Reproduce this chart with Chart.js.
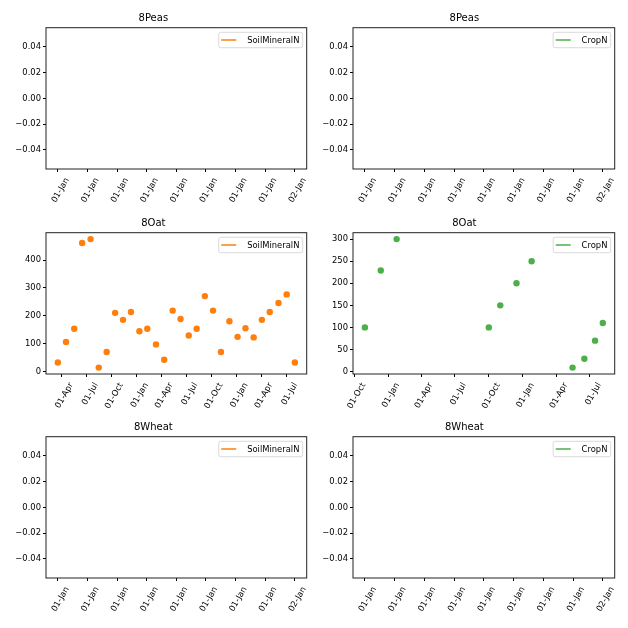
<!DOCTYPE html>
<html>
<head>
<meta charset="utf-8">
<script src="https://cdn.jsdelivr.net/npm/chart.js@4.4.1/dist/chart.umd.min.js"></script>
<style>
  body { margin: 0; background: #fff; }
  canvas { position: absolute; }
</style>
</head>
<body>
<canvas id="peasSoil" style="left:0px;top:0px" width="314" height="209"></canvas>
<canvas id="peasCrop" style="left:314px;top:0px" width="314" height="209"></canvas>
<canvas id="oatSoil" style="left:0px;top:205px" width="314" height="209"></canvas>
<canvas id="oatCrop" style="left:314px;top:205px" width="314" height="209"></canvas>
<canvas id="wheatSoil" style="left:0px;top:409px" width="314" height="209"></canvas>
<canvas id="wheatCrop" style="left:314px;top:409px" width="314" height="209"></canvas>
<script>
// empty panels (8Peas, 8Wheat)
var emptyXTicks = [0, 0.125, 0.25, 0.375, 0.5, 0.625, 0.75, 0.875, 1];
var emptyXLabels = ["01-Jan", "01-Jan", "01-Jan", "01-Jan", "01-Jan", "01-Jan", "01-Jan", "01-Jan", "02-Jan"];
var emptyYTicks = [-0.04, -0.02, 0, 0.02, 0.04];
var emptyYLabels = ["\u22120.04", "\u22120.02", "0.00", "0.02", "0.04"];

// 8Oat SoilMineralN
var oatSoilDates = ["2014-03-17", "2014-04-16", "2014-05-16", "2014-06-14", "2014-07-15", "2014-08-14",
  "2014-09-12", "2014-10-13", "2014-11-11", "2014-12-10", "2015-01-10", "2015-02-08", "2015-03-12",
  "2015-04-11", "2015-05-12", "2015-06-10", "2015-07-10", "2015-08-08", "2015-09-07", "2015-10-07",
  "2015-11-05", "2015-12-06", "2016-01-05", "2016-02-03", "2016-03-04", "2016-04-03", "2016-05-02",
  "2016-06-03", "2016-07-03", "2016-08-02"];
var oatSoilN = [33, 107, 154, 461, 475, 15, 71, 211, 186, 214, 145, 154, 98, 43, 219, 189, 130, 154,
  271, 219, 71, 181, 125, 156, 123, 186, 214, 246, 277, 33];
var oatSoilXTicks = ["2014-04-01", "2014-07-01", "2014-10-01", "2015-01-01", "2015-04-01", "2015-07-01",
  "2015-10-01", "2016-01-01", "2016-04-01", "2016-07-01"];
var oatSoilXLabels = ["01-Apr", "01-Jul", "01-Oct", "01-Jan", "01-Apr", "01-Jul", "01-Oct", "01-Jan", "01-Apr", "01-Jul"];
var oatSoilYTicks = [0, 100, 200, 300, 400];

// 8Oat CropN
var oatCropDates = ["2014-10-30", "2014-12-12", "2015-01-24", "2015-10-01", "2015-11-01", "2015-12-15",
  "2016-01-25", "2016-05-15", "2016-06-16", "2016-07-15", "2016-08-05"];
var oatCropN = [100, 229, 300, 100, 150, 200, 250, 9, 29, 70, 110];
var oatCropXTicks = ["2014-10-01", "2015-01-01", "2015-04-01", "2015-07-01", "2015-10-01", "2016-01-01",
  "2016-04-01", "2016-07-01"];
var oatCropXLabels = ["01-Oct", "01-Jan", "01-Apr", "01-Jul", "01-Oct", "01-Jan", "01-Apr", "01-Jul"];
var oatCropYTicks = [0, 50, 100, 150, 200, 250, 300];

var soilColor = "#ff7f0e";
var cropColor = "#4daf4a";
var fontFamily = "'DejaVu Sans', sans-serif";

function dayNum(s) {
  return Date.parse(s + "T00:00:00Z") / 86400000;
}

function withMargin(values) {
  var lo = Math.min.apply(null, values);
  var hi = Math.max.apply(null, values);
  var m = (hi - lo) * 0.05;
  return [lo - m, hi + m];
}

var framePlugin = {
  id: "frame",
  afterDatasetsDraw: function (chart) {
    var a = chart.chartArea;
    var ctx = chart.ctx;
    ctx.save();
    ctx.strokeStyle = "#222";
    ctx.lineWidth = 1;
    ctx.strokeRect(a.left, a.top, a.right - a.left, a.bottom - a.top);
    ctx.restore();
  }
};

var boxLegend = {
  id: "boxLegend",
  afterDraw: function (chart) {
    var ctx = chart.ctx;
    var a = chart.chartArea;
    var ds = chart.data.datasets[0];
    ctx.save();
    ctx.font = "8.4px " + fontFamily;
    var tw = ctx.measureText(ds.label).width;
    var w = 28.4 + tw + 3.3, h = 15.4;
    var x = a.right - 4 - w, y = a.top + 4.6;
    ctx.fillStyle = "rgba(255,255,255,0.8)";
    ctx.strokeStyle = "#d0d0d0";
    ctx.lineWidth = 0.8;
    ctx.beginPath();
    ctx.roundRect(x, y, w, h, 2);
    ctx.fill();
    ctx.stroke();
    ctx.strokeStyle = ds.backgroundColor;
    ctx.lineWidth = 1.5;
    ctx.beginPath();
    ctx.moveTo(x + 2.5, y + h / 2);
    ctx.lineTo(x + 17.5, y + h / 2);
    ctx.stroke();
    ctx.fillStyle = "#000";
    ctx.textBaseline = "middle";
    ctx.fillText(ds.label, x + 28.4, y + h / 2 + 0.5);
    ctx.restore();
  }
};

function makePanel(id, title, label, color, points, xTicks, xLabels, xRange, yTicks, yLabels, yRange, yWidth, padRight) {
  var tickFont = { family: fontFamily, size: 8.4 };
  return new Chart(document.getElementById(id), {
    type: "scatter",
    data: {
      datasets: [{
        label: label,
        data: points,
        backgroundColor: color,
        borderColor: color,
        pointRadius: 3.2,
        pointBorderWidth: 0,
        showLine: false
      }]
    },
    options: {
      responsive: false,
      animation: false,
      layout: { padding: { left: 0, right: padRight, top: 0, bottom: 0 } },
      plugins: {
        legend: { display: false },
        tooltip: { enabled: false },
        title: {
          display: true,
          text: title,
          color: "#000",
          font: { family: fontFamily, size: 10, weight: "normal" },
          padding: { top: 12.2, bottom: 3.5 }
        }
      },
      scales: {
        x: {
          type: "linear",
          min: xRange[0],
          max: xRange[1],
          grid: { display: true, drawOnChartArea: false, drawTicks: true, tickLength: 3, color: "#000" },
          border: { display: false },
          afterBuildTicks: function (scale) {
            scale.ticks = xTicks.map(function (v) { return { value: v }; });
          },
          afterFit: function (scale) { scale.height = 40; },
          ticks: {
            autoSkip: false,
            minRotation: 60,
            maxRotation: 60,
            padding: 4,
            labelOffset: 9.5,
            color: "#000",
            font: tickFont,
            callback: function (v, i) { return xLabels[i]; }
          }
        },
        y: {
          type: "linear",
          min: yRange[0],
          max: yRange[1],
          grid: { display: true, drawOnChartArea: false, drawTicks: true, tickLength: 3, color: "#000" },
          border: { display: false },
          afterBuildTicks: function (scale) {
            scale.ticks = yTicks.map(function (v) { return { value: v }; });
          },
          afterFit: function (scale) { scale.width = yWidth; },
          ticks: {
            padding: 2,
            color: "#000",
            font: tickFont,
            callback: function (v, i) { return yLabels[i]; }
          }
        }
      }
    },
    plugins: [framePlugin, boxLegend]
  });
}

var oatSoilPoints = oatSoilDates.map(function (d, i) { return { x: dayNum(d), y: oatSoilN[i] }; });
var oatCropPoints = oatCropDates.map(function (d, i) { return { x: dayNum(d), y: oatCropN[i] }; });

makePanel("peasSoil", "8Peas", "SoilMineralN", soilColor, [], emptyXTicks, emptyXLabels, [-0.05, 1.05],
  emptyYTicks, emptyYLabels, [-0.055, 0.055], 46, 7.3);
makePanel("peasCrop", "8Peas", "CropN", cropColor, [], emptyXTicks, emptyXLabels, [-0.05, 1.05],
  emptyYTicks, emptyYLabels, [-0.055, 0.055], 39, 13.3);

makePanel("oatSoil", "8Oat", "SoilMineralN", soilColor, oatSoilPoints,
  oatSoilXTicks.map(dayNum), oatSoilXLabels, withMargin(oatSoilDates.map(dayNum)),
  oatSoilYTicks, oatSoilYTicks.map(String), withMargin(oatSoilN), 46, 7.3);
makePanel("oatCrop", "8Oat", "CropN", cropColor, oatCropPoints,
  oatCropXTicks.map(dayNum), oatCropXLabels, withMargin(oatCropDates.map(dayNum)),
  oatCropYTicks, oatCropYTicks.map(String), withMargin(oatCropN), 39, 13.3);

makePanel("wheatSoil", "8Wheat", "SoilMineralN", soilColor, [], emptyXTicks, emptyXLabels, [-0.05, 1.05],
  emptyYTicks, emptyYLabels, [-0.055, 0.055], 46, 7.3);
makePanel("wheatCrop", "8Wheat", "CropN", cropColor, [], emptyXTicks, emptyXLabels, [-0.05, 1.05],
  emptyYTicks, emptyYLabels, [-0.055, 0.055], 39, 13.3);
</script>
</body>
</html>
